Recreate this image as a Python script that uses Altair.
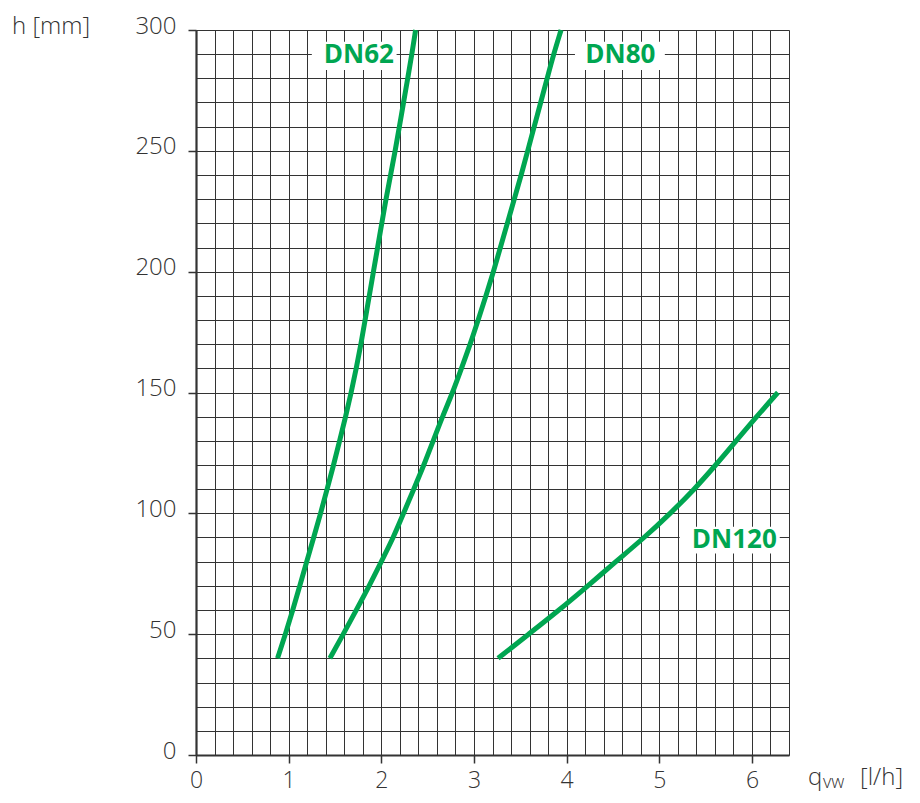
import altair as alt
import pandas as pd

# ---- data ----
h_levels = [40, 50, 60, 70, 80, 90, 100, 110, 120, 130, 140, 150, 160, 170, 180,
            190, 200, 210, 220, 230, 240, 250, 260, 270, 280, 290, 300]
dn62_q = [0.88, 0.965, 1.045, 1.12, 1.195, 1.27, 1.345, 1.415, 1.485, 1.55, 1.615,
          1.675, 1.73, 1.78, 1.825, 1.87, 1.915, 1.96, 2.005, 2.05, 2.10, 2.15,
          2.195, 2.24, 2.285, 2.33, 2.37]
dn80_q = [1.445, 1.59, 1.73, 1.87, 2.00, 2.13, 2.24, 2.35, 2.46, 2.56, 2.66, 2.77,
          2.865, 2.96, 3.045, 3.13, 3.21, 3.285, 3.36, 3.435, 3.51, 3.58, 3.65,
          3.72, 3.79, 3.86, 3.94]
dn120_h = [40, 50, 60, 70, 80, 90, 100, 110, 120, 130, 140, 150]
dn120_q = [3.26, 3.59, 3.92, 4.23, 4.53, 4.84, 5.12, 5.38, 5.61, 5.83, 6.05, 6.28]

label_names = ["DN62", "DN80", "DN120"]
label_q = [1.758, 4.58, 5.81]
label_h = [289.6, 289.6, 89.0]
box_q1 = [1.25, 4.09, 5.22]
box_q2 = [2.165, 5.06, 6.30]
box_h1 = [283.4, 283.4, 83.4]
box_h2 = [295.1, 295.1, 94.5]

x_grid = [round(i * 0.2, 1) for i in range(33)]
y_grid = list(range(0, 301, 10))
x_domain = [0, 6.4]
y_domain = [0, 300]

GREEN = "#00A651"
INK = "#333333"
FONT = "Open Sans"

rows = []
for q, h in zip(dn62_q, h_levels):
    rows.append({"series": "DN62", "q": q, "h": h})
for q, h in zip(dn80_q, h_levels):
    rows.append({"series": "DN80", "q": q, "h": h})
for q, h in zip(dn120_q, dn120_h):
    rows.append({"series": "DN120", "q": q, "h": h})
curves = pd.DataFrame(rows)

labels = pd.DataFrame({"name": label_names, "q": label_q, "h": label_h,
                       "q1": box_q1, "q2": box_q2, "h1": box_h1, "h2": box_h2})

is_int_x = "abs(datum.value - round(datum.value)) < 0.001"
is_50_y = "abs(datum.value % 50) < 0.001"

x_axis = alt.Axis(
    values=x_grid, tickCount=500, grid=True, gridColor=INK, gridWidth=1,
    domainColor=INK, domainWidth=2.2,
    tickColor=INK, tickWidth=1.5, tickSize=8,
    tickOpacity={"condition": {"test": is_int_x, "value": 1}, "value": 0},
    labelExpr=f"{is_int_x} ? toString(round(datum.value)) : ''",
    labelFont=FONT, labelFontSize=23, labelFontWeight=300, labelColor=INK,
    labelPadding=6, labelOverlap=False, labelFlush=False, labelBound=False,
    title=None,
)
y_axis = alt.Axis(
    values=y_grid, tickCount=500, grid=True, gridColor=INK, gridWidth=1,
    domainColor=INK, domainWidth=2.2,
    tickColor=INK, tickWidth=1.5, tickSize=8,
    tickOpacity={"condition": {"test": is_50_y, "value": 1}, "value": 0},
    labelExpr=f"{is_50_y} ? toString(datum.value) : ''",
    labelFont=FONT, labelFontSize=24, labelFontWeight=300, labelColor=INK,
    labelPadding=12, labelOffset=-4, labelOverlap=False, labelFlush=False,
    labelBound=False, title=None,
)

xs = alt.Scale(domain=x_domain, nice=False, zero=False)
ys = alt.Scale(domain=y_domain, nice=False, zero=False)

boxes = alt.Chart(labels).mark_rect(color="white").encode(
    x=alt.X("q1:Q", scale=xs, axis=x_axis),
    x2="q2:Q",
    y=alt.Y("h1:Q", scale=ys, axis=y_axis),
    y2="h2:Q",
)

lines = alt.Chart(curves).mark_line(
    strokeWidth=5, interpolate="basis", strokeCap="butt", color=GREEN
).encode(
    x=alt.X("q:Q", scale=xs, axis=x_axis),
    y=alt.Y("h:Q", scale=ys, axis=y_axis),
    detail="series:N",
    order="h:Q",
)

texts = alt.Chart(labels).mark_text(
    font=FONT, fontSize=26, fontWeight="bold", color=GREEN,
    align="center", baseline="middle",
).encode(
    x=alt.X("q:Q", scale=xs, axis=x_axis),
    y=alt.Y("h:Q", scale=ys, axis=y_axis),
    text="name:N",
)

def note(txt, px, py, size, align="left"):
    return alt.Chart(pd.DataFrame({"t": [txt]})).mark_text(
        font=FONT, fontSize=size, fontWeight=300, color=INK,
        align=align, baseline="alphabetic",
    ).encode(x=alt.value(px), y=alt.value(py), text="t:N")

y_title = note("h [mm]", -184, 4, 24)
x_title_q = note("q", 612, 755, 24)
x_title_vw = note("vw", 627, 758, 18)
x_title_unit = note("[l/h]", 664, 755, 24)

chart = alt.layer(
    boxes, lines, texts, y_title, x_title_q, x_title_vw, x_title_unit
).properties(
    width=593, height=725,
    padding={"left": 188, "top": 22, "right": 123, "bottom": 38},
    autosize=alt.AutoSizeParams(type="none"),
).configure_view(stroke=None).configure(background="white")

chart.save("out.html", embed_options={"renderer": "svg", "actions": False})
